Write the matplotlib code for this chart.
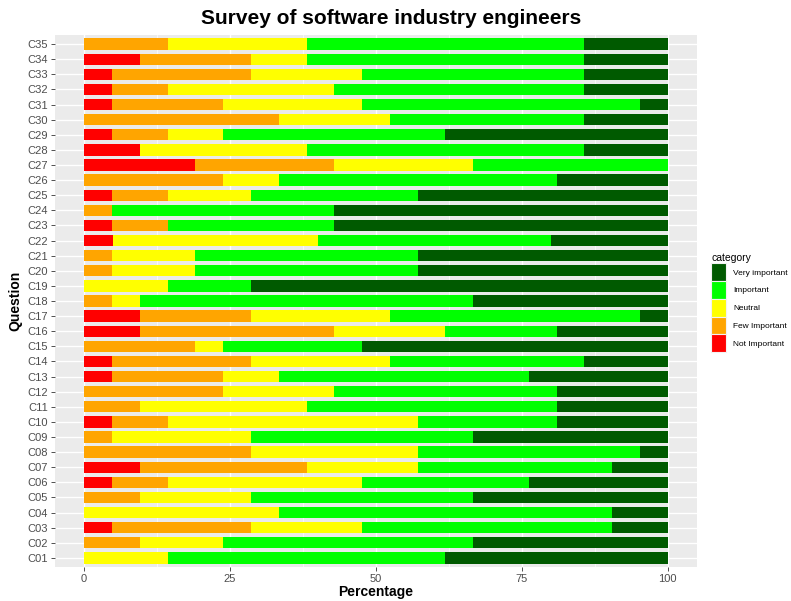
import matplotlib
matplotlib.use("Agg")
import matplotlib.pyplot as plt
import matplotlib.patches as mpatches
import numpy as np

plt.rcParams["font.family"] = ["Liberation Sans", "DejaVu Sans"]

# answers per question (counts of respondents), C01 .. C35
questions = ["C%02d" % i for i in range(1, 36)]
respondents = [21] * 35
respondents[21] = 20  # C22 had 20 answers

not_important = [0, 0, 1, 0, 0, 1, 2, 0, 0, 1, 0, 0, 1, 1, 0, 2, 2, 0, 0, 0,
                 0, 1, 1, 0, 1, 0, 4, 2, 1, 0, 1, 1, 1, 2, 0]
few_important = [0, 2, 5, 0, 2, 2, 6, 6, 1, 2, 2, 5, 4, 5, 4, 7, 4, 1, 0, 1,
                 1, 0, 2, 1, 2, 5, 5, 0, 2, 7, 4, 2, 5, 4, 3]
neutral = [3, 3, 4, 7, 4, 7, 4, 6, 5, 9, 6, 4, 2, 5, 1, 4, 5, 1, 3, 3,
           3, 7, 0, 0, 3, 2, 5, 6, 2, 4, 5, 6, 4, 2, 5]
important = [10, 9, 9, 12, 8, 6, 7, 8, 8, 5, 9, 8, 9, 7, 5, 4, 9, 12, 3, 8,
             8, 8, 6, 8, 6, 10, 7, 10, 8, 7, 10, 9, 8, 10, 10]
very_important = [8, 7, 2, 2, 7, 5, 2, 1, 7, 4, 4, 4, 5, 3, 11, 4, 1, 7, 15, 9,
                  9, 4, 12, 12, 9, 4, 0, 3, 8, 3, 1, 3, 3, 3, 3]

series = [
    ("Not Important", not_important, "#FF0000"),
    ("Few Important", few_important, "#FFA500"),
    ("Neutral", neutral, "#FFFF00"),
    ("Important", important, "#00FF00"),
    ("Very important", very_important, "#005A00"),
]

total = np.array(respondents, dtype=float)
ypos = np.arange(1, len(questions) + 1)

fig = plt.figure(figsize=(7.91, 6.01), dpi=100)
ax = fig.add_axes([55 / 791, 1 - 567 / 601, 642 / 791, 532 / 601])
ax.set_facecolor("#EBEBEB")

left = np.zeros(len(questions))
for name, counts, col in series:
    pct = np.array(counts) / total * 100
    ax.barh(ypos, pct, left=left, height=0.75, color=col, edgecolor="none", zorder=3)
    left += pct

ax.set_xlim(-5, 105)
ax.set_ylim(0.4, len(questions) + 0.6)
ax.set_xticks([0, 25, 50, 75, 100])
ax.set_xticks([12.5, 37.5, 62.5, 87.5], minor=True)
ax.set_yticks(ypos)
ax.set_yticklabels(questions)
ax.grid(which="major", color="white", lw=1.0, zorder=1)
ax.grid(which="minor", axis="x", color="white", lw=0.5, zorder=1)
for s in ax.spines.values():
    s.set_visible(False)
ax.tick_params(axis="both", which="major", colors="#333333", labelcolor="#4D4D4D",
               labelsize=8, length=3, width=0.6, pad=2)
ax.tick_params(which="minor", length=0)

ax.set_xlabel("Percentage", fontsize=10, fontweight="bold", labelpad=1)
ax.set_ylabel("Question", fontsize=10, fontweight="bold", labelpad=4)
fig.text(0.494, 1 - 18 / 601, "Survey of software industry engineers", ha="center",
         va="center", fontsize=15, fontweight="bold")

handles = [mpatches.Patch(facecolor=col, edgecolor="#F2F2F2", lw=0.8, label=name)
           for name, _, col in reversed(series)]
leg = fig.legend(handles=handles, title="category", loc="upper left",
                 bbox_to_anchor=(708 / 791, 1 - 250 / 601), frameon=False,
                 fontsize=6, title_fontsize=7.5, handlelength=1.8, handleheight=2.9,
                 handletextpad=0.8, labelspacing=0.0, borderaxespad=0)
leg._legend_box.align = "left"

fig.savefig("out.png", dpi=100)
